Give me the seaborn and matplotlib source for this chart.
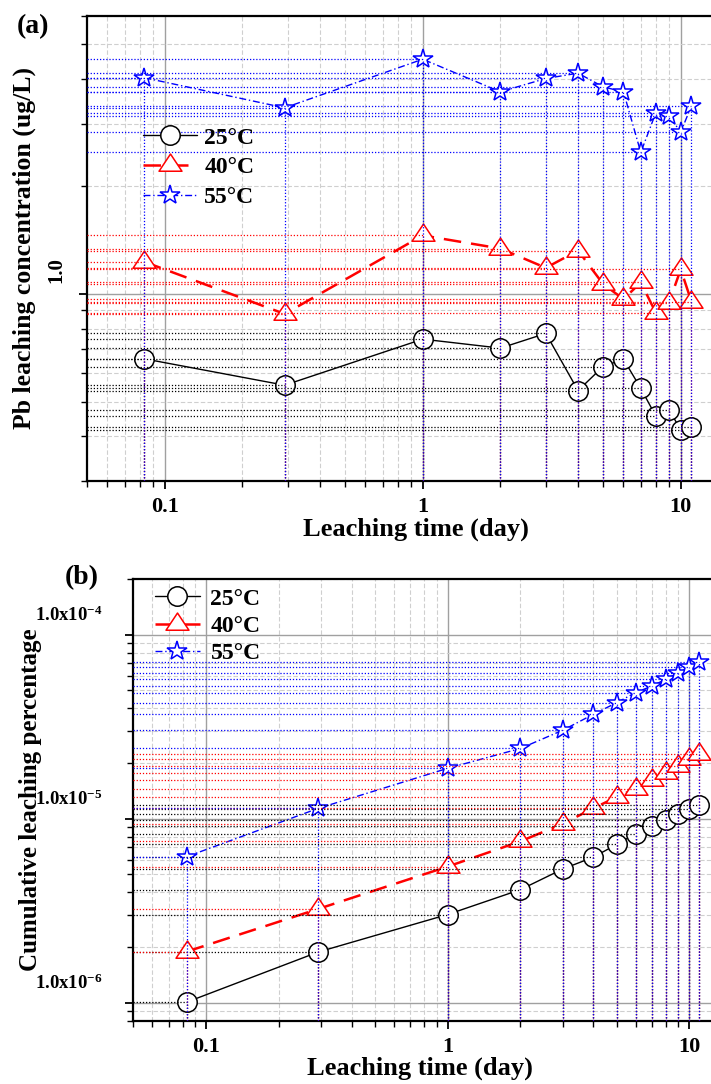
import numpy as np
import matplotlib
import seaborn as sns
import matplotlib.pyplot as plt
from matplotlib.path import Path
from matplotlib.ticker import FixedLocator, LogLocator, NullFormatter

matplotlib.use('Agg')

# leaching time (day): 2 h, 7 h, then daily
days = [2 / 24, 7 / 24, 1, 2, 3, 4, 5, 6, 7, 8, 9, 10, 11]
temps = ['25°C', '40°C', '55°C']

# (a) Pb leaching concentration (ug/L)
conc_25 = [0.659, 0.556, 0.748, 0.706, 0.776, 0.537, 0.627, 0.657, 0.545, 0.456, 0.475, 0.417, 0.426]
conc_40 = [1.231, 0.880, 1.459, 1.341, 1.184, 1.324, 1.067, 0.968, 1.078, 0.888, 0.945, 1.173, 0.953]
conc_55 = [4.03, 3.32, 4.54, 3.68, 4.01, 4.15, 3.80, 3.68, 2.49, 3.21, 3.15, 2.84, 3.36]

# (b) cumulative leaching percentage
cum_25 = [1.01e-6, 1.89e-6, 3.02e-6, 4.12e-6, 5.34e-6, 6.18e-6, 7.25e-6, 8.3e-6, 9.1e-6,
          9.8e-6, 1.065e-5, 1.125e-5, 1.19e-5]
cum_40 = [1.90e-6, 3.24e-6, 5.50e-6, 7.54e-6, 9.40e-6, 1.14e-5, 1.31e-5, 1.46e-5, 1.63e-5,
          1.77e-5, 1.93e-5, 2.10e-5, 2.25e-5]
cum_55 = [6.23e-6, 1.14e-5, 1.88e-5, 2.41e-5, 3.03e-5, 3.69e-5, 4.27e-5, 4.85e-5, 5.26e-5,
          5.73e-5, 6.21e-5, 6.67e-5, 7.15e-5]

xtick_vals = [0.1, 1, 10]
xtick_labels = ['0.1', '1', '10']
ytick_vals_a = [1.0]
ytick_labels_a = ['1.0']
ytick_vals_b = [1e-6, 1e-5, 1e-4]
ytick_labels_b = ['1.0x10$^{-6}$', '1.0x10$^{-5}$', '1.0x10$^{-4}$']

sns.set_style('ticks')
plt.rcParams['font.family'] = ['Liberation Serif', 'DejaVu Serif']
plt.rcParams['font.weight'] = 'bold'
plt.rcParams['axes.labelweight'] = 'bold'
plt.rcParams['mathtext.fontset'] = 'custom'
plt.rcParams['mathtext.rm'] = 'Liberation Serif:bold'
plt.rcParams['mathtext.bf'] = 'Liberation Serif:bold'
plt.rcParams['mathtext.it'] = 'Liberation Serif:bold'
plt.rcParams['mathtext.default'] = 'rm'
for key in ['text.color', 'axes.labelcolor', 'xtick.color', 'ytick.color']:
    plt.rcParams[key] = 'black'

colors = {'25°C': '#000000', '40°C': '#ff0000', '55°C': '#0000ff'}
# triangle centred on its centroid, like the original software
tri = Path([(0, 2 / 3), (-2 / 3, -1 / 3), (2 / 3, -1 / 3), (0, 2 / 3)], closed=True)
styles = {
    '25°C': dict(marker='o', markersize=14, linestyle='-', linewidth=1.0),
    '40°C': dict(marker=tri, markersize=16.5, linestyle=(0, (7, 4)), linewidth=1.8),
    '55°C': dict(marker='*', markersize=15, linestyle=(0, (5, 2, 1, 2)), linewidth=1.0),
}


def draw_panel(ax, series, xlim, ylim):
    ax.set_xscale('log')
    ax.set_yscale('log')
    for temp, vals in zip(temps, series):
        c = colors[temp]
        ax.hlines(vals, xlim[0], days, colors=c, linestyles=(0, (1, 1.5)),
                  linewidth=0.9, zorder=3)
        ax.vlines(days, ylim[0], vals, colors=c, linestyles=(0, (1, 1.5)),
                  linewidth=0.9, zorder=3)
        sns.lineplot(x=days, y=vals, ax=ax, color=c, label=temp, errorbar=None,
                     markerfacecolor='white', markeredgecolor=c, markeredgewidth=1.1,
                     zorder=2.5, **styles[temp])
    ax.set_xlim(*xlim)
    ax.set_ylim(*ylim)
    ax.xaxis.set_major_locator(FixedLocator(xtick_vals))
    ax.set_xticklabels(xtick_labels)
    ax.xaxis.set_minor_locator(LogLocator(base=10, subs=np.arange(2, 10), numticks=50))
    ax.xaxis.set_minor_formatter(NullFormatter())
    ax.yaxis.set_minor_locator(LogLocator(base=10, subs=np.arange(2, 10), numticks=50))
    ax.yaxis.set_major_formatter(NullFormatter())
    ax.yaxis.set_minor_formatter(NullFormatter())
    ax.set_axisbelow(True)
    ax.grid(which='major', color='#a0a0a0', linewidth=1.0, linestyle='-')
    ax.grid(which='minor', color='#cfcfcf', linewidth=0.8, linestyle=(0, (4, 2)))
    for side in ['left', 'bottom', 'top']:
        ax.spines[side].set_linewidth(1.6)
        ax.spines[side].set_color('black')
    ax.spines['right'].set_visible(False)
    ax.tick_params(which='major', direction='out', length=5.5, width=1.3, color='black',
                   labelsize=16, labelcolor='black')
    ax.tick_params(which='minor', direction='out', length=4, width=1.0, color='black')
    ax.tick_params(axis='x', which='major', pad=6)


fig = plt.figure(figsize=(7.11, 10.84), dpi=100)

# panel (a)
ax1 = fig.add_axes([0.1224, 0.5563, 0.8776, 0.4290])
draw_panel(ax1, [conc_25, conc_40, conc_55], (0.05, 13.1), (0.3, 6))
ax1.yaxis.set_major_locator(FixedLocator(ytick_vals_a))
for v, lab in zip(ytick_vals_a, ytick_labels_a):
    ax1.annotate(lab, xy=(0, v), xycoords=('axes fraction', 'data'), xytext=(-22, 17),
                 textcoords='offset points', rotation=90, ha='center', va='center',
                 fontsize=15, fontweight='bold')
ax1.set_xlabel('Leaching time (day)', fontsize=19, fontweight='bold')
ax1.xaxis.set_label_coords(0.5264, -0.079)
ax1.xaxis.label.set_va('top')
ax1.set_ylabel('Pb leaching concentration (ug/L)', fontsize=18.5, fontweight='bold')
ax1.yaxis.set_label_coords(-0.082, 0.5)
ax1.legend(loc='upper left', bbox_to_anchor=(143 / 711, 1 - 127 / 1084),
           bbox_transform=fig.transFigure, frameon=False, fontsize=17,
           handlelength=2.3, handletextpad=0.3, labelspacing=0.35,
           borderpad=0, borderaxespad=0)

# panel (b)
ax2 = fig.add_axes([0.1875, 0.0584, 0.8125, 0.40719])
draw_panel(ax2, [cum_25, cum_40, cum_55], (0.05, 12.3), (8e-7, 2e-4))
ax2.yaxis.set_major_locator(FixedLocator(ytick_vals_b))
for v, lab in zip(ytick_vals_b, ytick_labels_b):
    ax2.annotate(lab, xy=(0, v), xycoords=('axes fraction', 'data'), xytext=(-22, 14),
                 textcoords='offset points', ha='right', va='center',
                 fontsize=13.5, fontweight='bold')
ax2.set_xlabel('Leaching time (day)', fontsize=19, fontweight='bold')
ax2.xaxis.set_label_coords(0.496, -0.0816)
ax2.xaxis.label.set_va('top')
ax2.set_ylabel('Cumulative leaching percentage', fontsize=18, fontweight='bold')
ax2.yaxis.set_label_coords(-0.158, 0.5)
ax2.legend(loc='upper left', bbox_to_anchor=(155 / 711, 1 - 588 / 1084),
           bbox_transform=fig.transFigure, frameon=False, fontsize=17,
           handlelength=1.9, handletextpad=0.45, labelspacing=0.25,
           borderpad=0, borderaxespad=0)

fig.text(33 / 711, 1 - 27 / 1084, '(a)', fontsize=20, fontweight='bold',
         ha='center', va='center')
fig.text(82 / 711, 1 - 578 / 1084, '(b)', fontsize=20, fontweight='bold',
         ha='center', va='center')

fig.savefig('out.png', dpi=100)
